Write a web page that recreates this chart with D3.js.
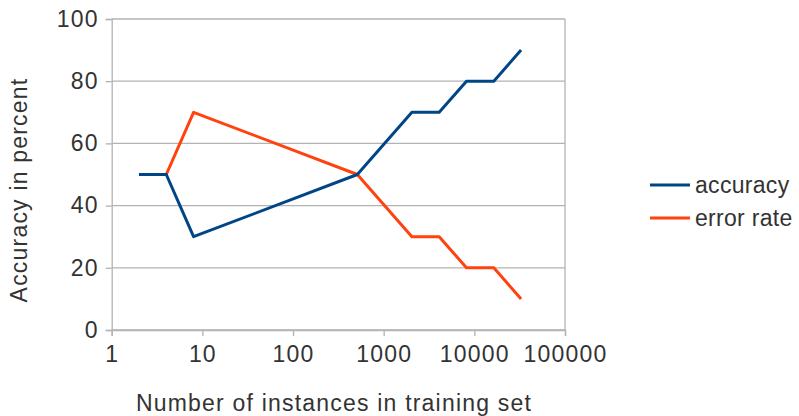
<!DOCTYPE html>
<html><head><meta charset="utf-8">
<script src="https://cdn.jsdelivr.net/npm/d3@7"></script>
<style>body{margin:0;background:#fff;} svg{display:block;}</style>
</head><body>
<svg id="c" width="799" height="416"></svg>
<script>
const instances = [2, 4, 8, 512, 2048, 4096, 8192, 16384, 32768];
const accuracy = [50, 50, 30, 50, 70, 70, 80, 80, 90];
const errorRate = [50, 50, 70, 50, 30, 30, 20, 20, 10];
const xTicks = [1, 10, 100, 1000, 10000, 100000];
const yTicks = [0, 20, 40, 60, 80, 100];
const seriesNames = ["accuracy", "error rate"];
const colors = ["#004586", "#ff420e"];

const svg = d3.select("#c");
const font = "'Liberation Sans', Arial, sans-serif";
const fs = "23px";
const textColor = "#333333";
const gridColor = "#b3b3b3";

function styleText(sel, ls) {
  return sel.attr("fill", textColor).style("font-family", font)
    .style("font-size", fs).style("letter-spacing", ls || "1.2px");
}

const x = d3.scaleLog().domain([1, 100000]).range([111.7, 565]);
const y = d3.scaleLinear().domain([0, 100]).range([330, 19]);

// grid lines
svg.append("g").selectAll("line").data(yTicks).join("line")
  .attr("x1", x(1)).attr("x2", x(100000))
  .attr("y1", d => y(d)).attr("y2", d => y(d))
  .attr("stroke", gridColor).attr("stroke-width", 1.3);
// right frame
svg.append("line").attr("x1", x(100000)).attr("x2", x(100000))
  .attr("y1", y(0)).attr("y2", y(100)).attr("stroke", gridColor).attr("stroke-width", 1.3);

// y axis
const yAxis = svg.append("g").attr("transform", `translate(${x(1)},0)`)
  .call(d3.axisLeft(y).tickValues(yTicks).tickSize(6).tickPadding(7).tickFormat(d3.format("d")));
// x axis
const xAxis = svg.append("g").attr("transform", `translate(0,${y(0)})`)
  .call(d3.axisBottom(x).tickValues(xTicks).tickSize(6).tickPadding(10).tickFormat(d3.format("d")));

[yAxis, xAxis].forEach(a => {
  a.selectAll("path.domain").attr("stroke", gridColor).attr("stroke-width", 1.3);
  a.selectAll(".tick line").attr("stroke", gridColor).attr("stroke-width", 1.3);
  styleText(a.selectAll(".tick text"));
});

// lines
const line = d3.line().x(d => x(d[0])).y(d => y(d[1]));
const seriesData = [accuracy, errorRate];
[1, 0].forEach(i => {
  svg.append("path")
    .datum(instances.map((v, j) => [v, seriesData[i][j]]))
    .attr("d", line).attr("fill", "none")
    .attr("stroke", colors[i]).attr("stroke-width", 3)
    .attr("stroke-linejoin", "round");
});

// axis titles
styleText(svg.append("text").attr("x", 334).attr("y", 411).attr("text-anchor", "middle"))
  .text("Number of instances in training set");
styleText(svg.append("text").attr("transform", "translate(27,190) rotate(-90)").attr("text-anchor", "middle"))
  .text("Accuracy in percent");

// legend
const lg = svg.append("g");
seriesNames.forEach((n, i) => {
  const ly = 185 + i * 33;
  lg.append("line").attr("x1", 650).attr("x2", 690).attr("y1", ly).attr("y2", ly)
    .attr("stroke", colors[i]).attr("stroke-width", 3);
  styleText(lg.append("text").attr("x", 695).attr("y", ly).attr("dy", "0.35em"), "0.3px").text(n);
});
</script>
</body></html>
